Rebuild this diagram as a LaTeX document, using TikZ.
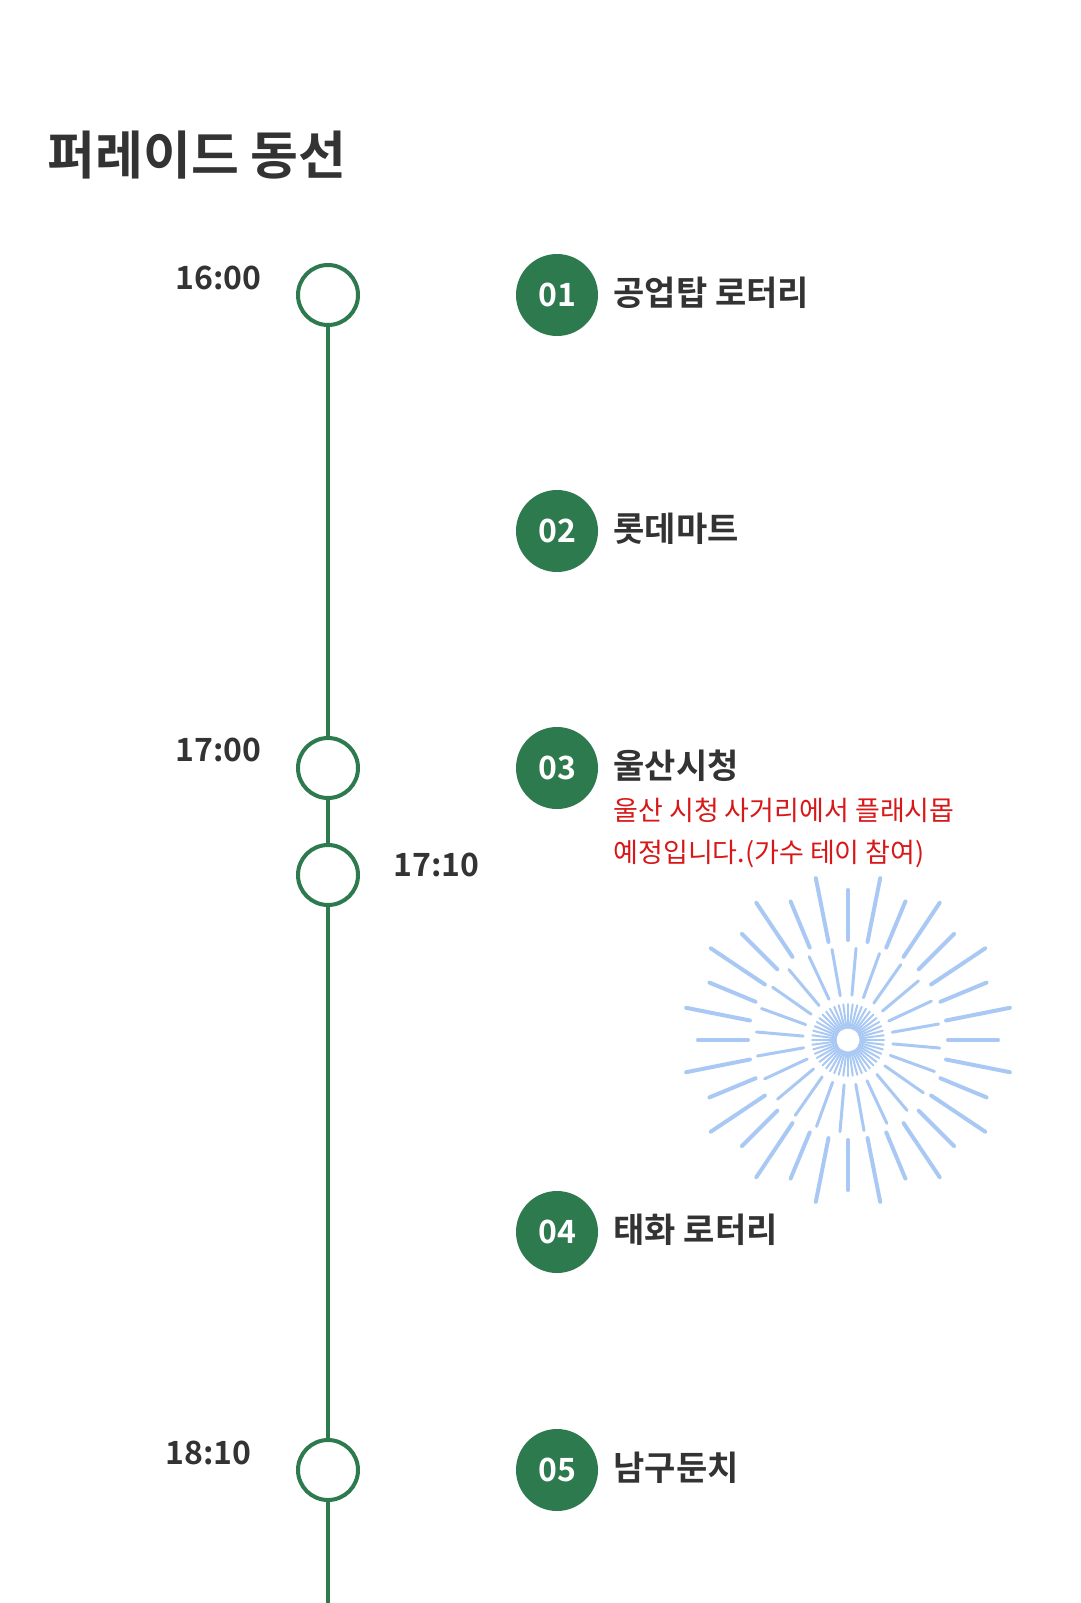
\documentclass[tikz,border=0pt]{standalone}
\usepackage{fontspec}
\usetikzlibrary{calc}
\setmainfont{Noto Sans CJK KR}
\newfontfamily\kb{Noto Sans CJK KR Bold}
\definecolor{gr}{HTML}{2E7A4F}
\definecolor{rd}{HTML}{D81818}
\definecolor{bl}{HTML}{A9C9F4}
\definecolor{tx}{HTML}{333333}
\begin{document}
\begin{tikzpicture}[x=1pt,y=-1pt,
  ring/.style={circle,draw=gr,line width=4pt,fill=white,minimum size=60pt,inner sep=0pt},
  badge/.style={circle,fill=gr,minimum size=82pt,inner sep=0pt,text=white,font=\kb\fontsize{32}{32}\selectfont},
  lbl/.style={anchor=west,text=tx,font=\kb\fontsize{34}{34}\selectfont},
  tm/.style={text=tx,font=\kb\fontsize{32}{32}\selectfont},
  ray/.style={draw=bl,line cap=round}]
\useasboundingbox (0,0) rectangle (1080,1603);
\node[anchor=west,text=tx,font=\kb\fontsize{52}{52}\selectfont] (title) at (44,155) {퍼레이드 동선};
\coordinate (bot) at (328,1603);
\draw[gr,line width=4pt] (328,295) coordinate (top) -- (bot);
\node[ring] (r1) at (328,295) {};
\node[ring] (r2) at (328,768) {};
\node[ring] (r3) at (328,875) {};
\node[ring] (r4) at (328,1470) {};
\node[tm,anchor=east] (t1) at (265,278) {16:00};
\node[tm,anchor=east] (t2) at (265,750) {17:00};
\node[tm,anchor=west] (t3) at (390,865) {17:10};
\node[tm,anchor=east] (t4) at (255,1453) {18:10};
\node[badge] (b1) at (557,295) {01};
\node[badge] (b2) at (557,531) {02};
\node[badge] (b3) at (557,768) {03};
\node[badge] (b4) at (557,1232) {04};
\node[badge] (b5) at (557,1470) {05};
\node[lbl] (l1) at (610,293) {공업탑 로터리};
\node[lbl] (l2) at (610,529) {롯데마트};
\node[lbl] (l3) at (610,766) {울산시청};
\node[lbl] (l4) at (610,1230) {태화 로터리};
\node[lbl] (l5) at (610,1468) {남구둔치};
\node[anchor=north west,text=rd,font=\fontsize{27}{42}\selectfont,align=left] (note) at (610,795) {울산 시청 사거리에서 플래시몹\\예정입니다.(가수 테이 참여)};
\coordinate (fw) at (848,1040);
\foreach \a [count=\i] in {0,11.25,...,349} {
  \pgfmathsetmacro{\ro}{mod(\i,2)==0 ? 165 : 150}
  \draw[ray,line width=4pt] ($(fw)+(\a:100)$) -- ($(fw)+(\a:\ro)$);
}
\foreach \a in {5,20,...,359} \draw[ray,line width=3pt] ($(fw)+(\a:45)$) -- ($(fw)+(\a:92)$);
\foreach \a in {0,7.5,...,359} \draw[ray,line width=2pt] ($(fw)+(\a:12)$) -- ($(fw)+(\a:36)$);
\end{tikzpicture}
\end{document}
